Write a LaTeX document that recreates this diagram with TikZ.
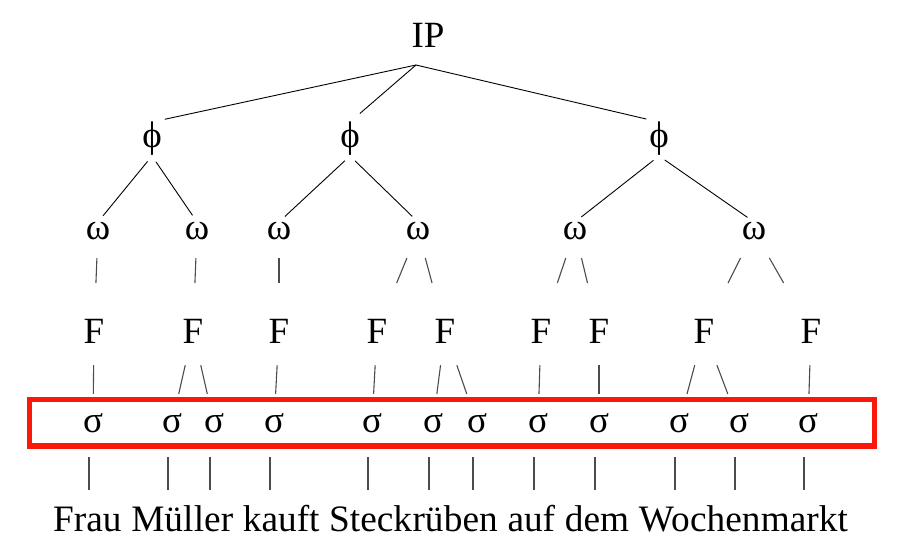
\documentclass[tikz,border=0pt]{standalone}
\usepackage{fontspec}
\setmainfont{Liberation Serif}
\usetikzlibrary{calc,positioning}
\definecolor{boxred}{RGB}{250,24,12}

\tikzset{
  lab/.style={inner sep=0pt, font=\fontsize{37}{44}\selectfont},
  syl/.style={lab, anchor=base west, font=\fontsize{37.3}{44}\selectfont},
  branch/.style={black, line width=0.9pt},
  stub/.style={black!70, line width=1.1pt},
  redbox/.style={boxred, line width=5.5pt}
}

\begin{document}
\begin{tikzpicture}[x=1pt, y=-1pt]
    \useasboundingbox (0,0) rectangle (899,552);

    % top and phrases
    \node[lab] (IP) at (428,35) {IP};
    \coordinate (IPfoot) at (416,65);
    \node[lab] (phi1) at (152,139) {ϕ};
    \node[lab] (phi2) at (350,139) {ϕ};
    \node[lab] (phi3) at (659,139) {ϕ};

    % words, feet, syllables
    \foreach \x [count=\i] in {98,197,279,418,575,754}
        \node[lab] (w\i) at (\x,231) {ω};
    \foreach \x [count=\i] in {94,193,279,377,445,541,599,704,811}
        \node[lab] (F\i) at (\x,331) {F};
    \foreach \x [count=\i] in {93,172,214,274,372,433,477,538,599,679,739,808}
        \node[lab] (s\i) at (\x,423.5) {σ};

    % the sentence, one node per syllable
    \node[syl] (y1) at (53,531) {Frau};
    \node[syl, base right=9.3pt of y1] (y2) {Mül};
    \node[syl, base right=0pt of y2] (y3) {ler};
    \node[syl, base right=9.3pt of y3] (y4) {kauft};
    \node[syl, base right=9.3pt of y4] (y5) {Steck};
    \node[syl, base right=0pt of y5] (y6) {rü};
    \node[syl, base right=0pt of y6] (y7) {ben};
    \node[syl, base right=9.3pt of y7] (y8) {auf};
    \node[syl, base right=9.3pt of y8] (y9) {dem};
    \node[syl, base right=9.3pt of y9] (y10) {Wo};
    \node[syl, base right=0pt of y10] (y11) {chen};
    \node[syl, base right=0pt of y11] (y12) {markt};

    % branches
    \foreach \b in {phi1,phi2,phi3}
        \draw[branch, shorten >=13pt] (IPfoot) -- (\b.north);
    \foreach \a/\b in {phi1/w1, phi1/w2, phi2/w3, phi2/w4, phi3/w5, phi3/w6}
        \draw[branch, shorten <=7pt, shorten >=8pt] (\a.south) -- (\b.north);
    \foreach \a/\b in {w1/F1, w2/F2, w3/F3, w4/F4, w4/F5, w5/F6, w5/F7, w6/F8, w6/F9}
        \draw[stub] ($(\a)!0.27!(\b)$) -- ($(\a)!0.52!(\b)$);
    \foreach \a/\b in {F1/s1, F2/s2, F2/s3, F3/s4, F4/s5, F5/s6, F5/s7, F6/s8, F7/s9, F8/s10, F8/s11, F9/s12}
        \draw[stub] ($(\a)!0.37!(\b)$) -- ($(\a)!0.68!(\b)$);
    \foreach \i in {1,...,12}
        \draw[stub] ($(s\i)+(-4,33.5)$) -- ($(s\i |- y\i.base)+(-4,-41)$);

    % syllable row
    \draw[redbox] (29.5,399.5) rectangle (874.5,446);
\end{tikzpicture}
\end{document}
